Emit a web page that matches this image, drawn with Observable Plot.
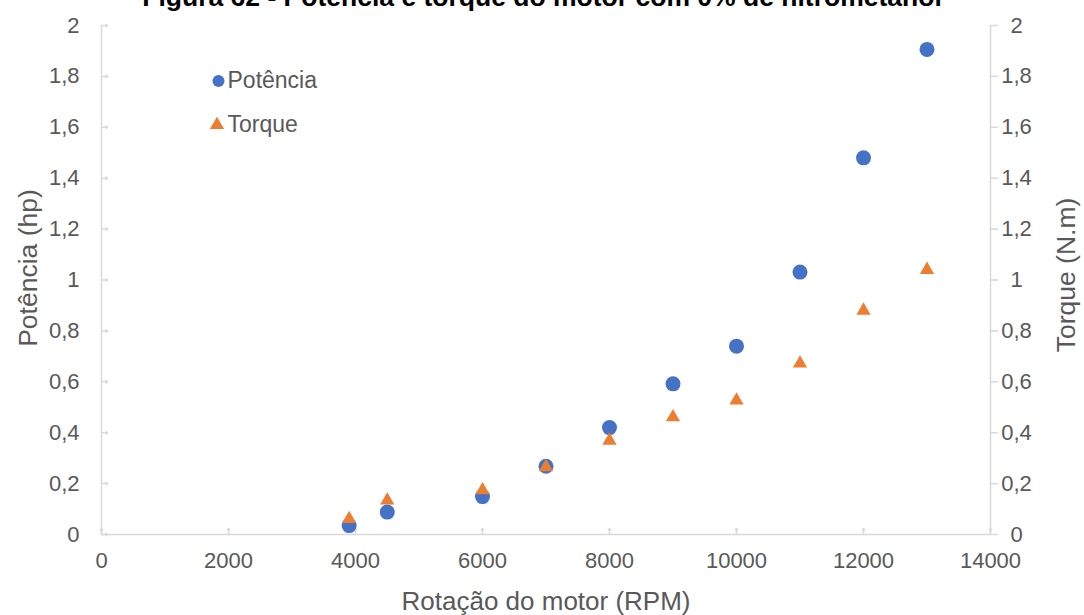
<!DOCTYPE html>
<html>
<head>
<meta charset="utf-8">
<script src="https://cdn.jsdelivr.net/npm/d3@7"></script>
<script src="https://cdn.jsdelivr.net/npm/@observablehq/plot@0.6"></script>
<style>
  html, body { margin: 0; padding: 0; background: #fff; }
  #wrap { position: relative; width: 1084px; height: 615px; overflow: hidden; }
  #title { position: absolute; left: 0; width: 1084px; top: -18px; text-align: center; line-height: 1;
           font: bold 26.5px "Liberation Sans", Arial, sans-serif; color: #000; white-space: nowrap; }
  #chart { position: absolute; left: 0; top: 0; }
</style>
</head>
<body>
<div id="wrap">
  <div id="chart"></div>
  <div id="title">Figura 62 - Potência e torque do motor com 0% de nitrometanol</div>
</div>
<script>
const rpm      = [3900, 4500, 6000, 7000, 8000, 9000, 10000, 11000, 12000, 13000];
const potencia = [0.035, 0.088, 0.149, 0.268, 0.42, 0.592, 0.74, 1.031, 1.48, 1.906];
const torque   = [0.061, 0.134, 0.174, 0.265, 0.369, 0.461, 0.527, 0.672, 0.88, 1.04];
const xTicks = [0, 2000, 4000, 6000, 8000, 10000, 12000, 14000];
const yTicks = [0, 0.2, 0.4, 0.6, 0.8, 1, 1.2, 1.4, 1.6, 1.8, 2];
const seriesNames = ["Potência", "Torque"];
const xLabel = "Rotação do motor (RPM)";
const yLabelLeft = "Potência (hp)";
const yLabelRight = "Torque (N.m)";

const pData = rpm.map((r, i) => ({rpm: r, v: potencia[i]}));
const tData = rpm.map((r, i) => ({rpm: r, v: torque[i]}));

const blue = "#4472C4", orange = "#ED7D31", axisGray = "#d9d9d9", textGray = "#595959";
const fmt = d => String(d).replace(".", ",");
const font = '"Liberation Sans", Arial, sans-serif';

const plot = Plot.plot({
  width: 1084, height: 615,
  marginLeft: 101, marginRight: 94, marginTop: 25, marginBottom: 81,
  style: {fontFamily: font, color: textGray, background: "#fff"},
  x: {domain: [0, 14000]},
  y: {domain: [0, 2]},
  marks: [
    Plot.ruleX([0], {stroke: axisGray, strokeWidth: 1.5}),
    Plot.ruleX([14000], {stroke: axisGray, strokeWidth: 1.5}),
    Plot.ruleY([0], {stroke: axisGray, strokeWidth: 1.5}),
    Plot.vector(xTicks, {x: d => d, y: 0, length: 6, anchor: "start", stroke: axisGray, strokeWidth: 1.5}),
    Plot.vector(yTicks, {x: 0, y: d => d, length: 6, rotate: 90, anchor: "start", stroke: axisGray, strokeWidth: 1.5}),
    Plot.axisX({ticks: xTicks, tickSize: 0, tickPadding: 18, tickFormat: d => String(d), fontSize: 22, fill: textGray, label: null}),
    Plot.axisY({ticks: yTicks, anchor: "left", tickSize: 0, tickPadding: 22, tickFormat: fmt, fontSize: 22, fill: textGray, label: null}),
    Plot.axisY({ticks: yTicks, anchor: "right", tickSize: 7, tickPadding: 19, textAnchor: "middle", tickFormat: fmt, fontSize: 22, fill: textGray, stroke: axisGray, strokeWidth: 1.5, label: null}),
    Plot.text([xLabel], {frameAnchor: "bottom", dy: 67, lineAnchor: "middle", textAnchor: "middle", fontSize: 26, fill: textGray}),
    Plot.text([yLabelLeft], {frameAnchor: "left", dx: -73, dy: -12, rotate: -90, lineAnchor: "middle", textAnchor: "middle", fontSize: 26.5, fill: textGray}),
    Plot.text([yLabelRight], {frameAnchor: "right", dx: 76, dy: -5, rotate: -90, lineAnchor: "middle", textAnchor: "middle", fontSize: 26.5, fill: textGray}),
    Plot.dot(pData, {x: "rpm", y: "v", r: 7.5, fill: blue, symbol: "circle"}),
    Plot.dot(tData, {x: "rpm", y: "v", r: 5.3, fill: orange, symbol: "triangle"}),
    // legend
    Plot.dot([seriesNames[0]], {frameAnchor: "top-left", dx: 117, dy: 55.5, r: 6, fill: blue, symbol: "circle"}),
    Plot.dot([seriesNames[1]], {frameAnchor: "top-left", dx: 115.5, dy: 99.5, r: 5.3, fill: orange, symbol: "triangle"}),
    Plot.text([seriesNames[0]], {frameAnchor: "top-left", dx: 126, dy: 55.5, text: d => d, textAnchor: "start", lineAnchor: "middle", fontSize: 23, fill: textGray}),
    Plot.text([seriesNames[1]], {frameAnchor: "top-left", dx: 126, dy: 99.5, text: d => d, textAnchor: "start", lineAnchor: "middle", fontSize: 23, fill: textGray})
  ]
});
document.getElementById("chart").appendChild(plot);
</script>
</body>
</html>
